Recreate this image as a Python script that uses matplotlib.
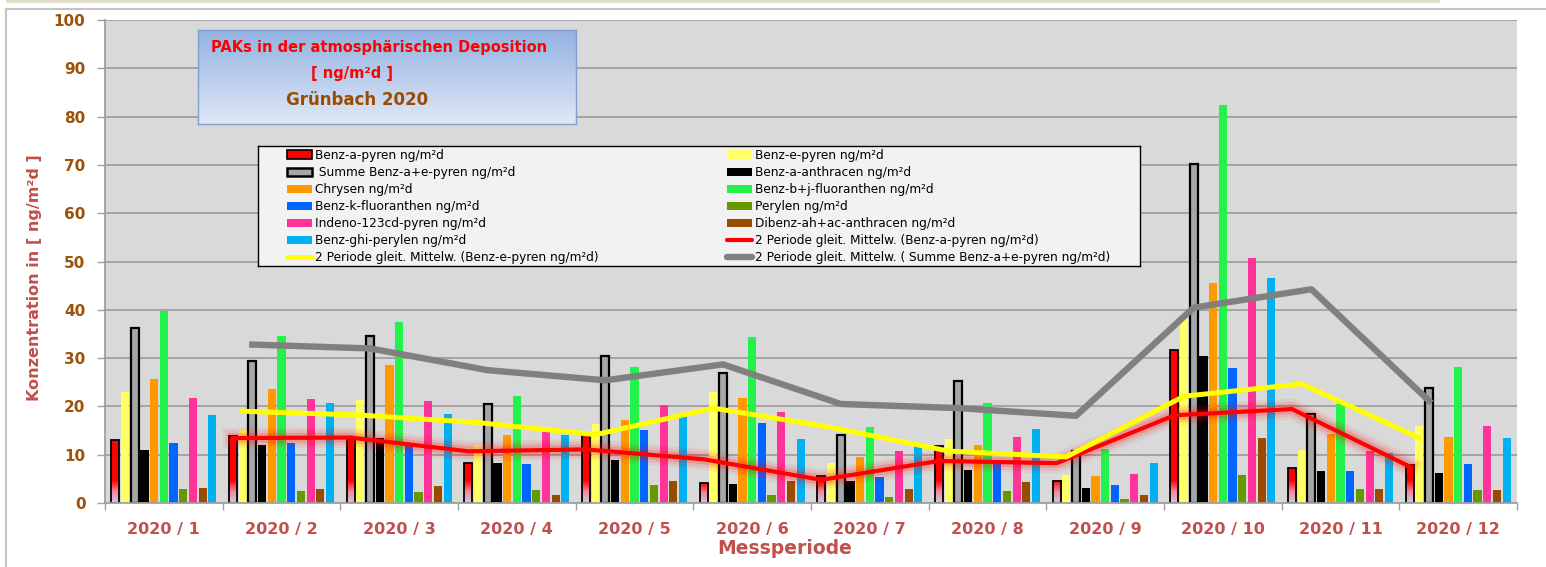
import numpy as np
import pandas as pd
import matplotlib
matplotlib.use('Agg')
import matplotlib.pyplot as plt
import matplotlib.patheffects as pe
from matplotlib.patches import Patch, Rectangle
from matplotlib.lines import Line2D
from matplotlib.colors import LinearSegmentedColormap

perioden = ['2020 / %d' % m for m in range(1, 13)]
bap = [13.0, 13.9, 13.2, 8.2, 14.0, 4.1, 5.5, 11.9, 4.6, 31.7, 7.2, 7.9]
bep = [22.9, 15.1, 21.3, 12.0, 16.3, 23.0, 8.3, 13.2, 5.9, 38.3, 11.0, 15.9]
summe = [36.2, 29.4, 34.6, 20.4, 30.4, 27.0, 14.0, 25.3, 10.8, 70.1, 18.4, 23.9]
baa = [11.0, 12.1, 13.4, 8.2, 8.8, 3.9, 4.5, 6.8, 3.2, 30.4, 6.6, 6.3]
chrysen = [25.7, 23.7, 28.6, 14.1, 17.1, 21.7, 9.6, 12.1, 5.6, 45.6, 14.2, 13.7]
bbjf = [39.8, 34.6, 37.4, 22.2, 28.1, 34.3, 15.8, 20.8, 11.1, 82.4, 20.6, 28.1]
bkf = [12.5, 12.5, 12.0, 8.1, 15.1, 16.5, 5.4, 8.3, 3.7, 27.9, 6.7, 8.1]
perylen = [2.8, 2.5, 2.3, 2.7, 3.7, 1.7, 1.2, 2.5, 0.8, 5.8, 2.8, 2.6]
indeno = [21.7, 21.6, 21.2, 14.8, 20.3, 18.8, 10.8, 13.7, 6.1, 50.7, 10.8, 15.9]
dibenz = [3.2, 2.9, 3.5, 1.7, 4.5, 4.5, 3.0, 4.3, 1.6, 13.4, 3.0, 2.6]
bghi = [18.2, 20.8, 18.4, 14.1, 17.9, 13.2, 11.7, 15.3, 8.2, 46.6, 10.4, 13.4]

namen = ['Benz-a-pyren ng/m²d', 'Benz-e-pyren ng/m²d', ' Summe Benz-a+e-pyren ng/m²d',
         'Benz-a-anthracen ng/m²d', 'Chrysen ng/m²d', 'Benz-b+j-fluoranthen ng/m²d',
         'Benz-k-fluoranthen ng/m²d', 'Perylen ng/m²d', 'Indeno-123cd-pyren ng/m²d',
         'Dibenz-ah+ac-anthracen ng/m²d', 'Benz-ghi-perylen ng/m²d']
werte = [bap, bep, summe, baa, chrysen, bbjf, bkf, perylen, indeno, dibenz, bghi]
farben = ['#ff0000', '#ffff66', '#a6a6a6', '#000000', '#ff9900', '#22f24a',
          '#0066ff', '#669900', '#ff3399', '#994c00', '#00b0f0']

ma_namen = ['2 Periode gleit. Mittelw. (Benz-a-pyren ng/m²d)',
            '2 Periode gleit. Mittelw. (Benz-e-pyren ng/m²d)',
            '2 Periode gleit. Mittelw. ( Summe Benz-a+e-pyren ng/m²d)']

W, H = 1546, 567
fig = plt.figure(figsize=(W / 100, H / 100), dpi=100)
fig.patch.set_facecolor('white')

# outer frame bits
fig.patches.append(Rectangle((6 / W, 1 - 3 / H), 1434 / W, 3 / H, transform=fig.transFigure,
                             facecolor='#e4dfc8', edgecolor='none'))
fig.lines.append(Line2D([6 / W, 1], [1 - 8.5 / H] * 2, transform=fig.transFigure, color='#c4c4c4', lw=1.5))
fig.lines.append(Line2D([6.5 / W] * 2, [0, 1 - 8.5 / H], transform=fig.transFigure, color='#c4c4c4', lw=1.5))

ax = fig.add_axes([105 / W, 1 - 503 / H, (1517 - 105) / W, (503 - 20) / H])
ax.set_facecolor('#d9d9d9')

pitch = 0.0825
bw = 0.07
x = np.arange(12)
grad = LinearSegmentedColormap.from_list('g', ['#cfc6e6', '#f08a9c', '#ff0000'])
for i, (vals, col) in enumerate(zip(werte, farben)):
    xs = x + (i - 5) * pitch
    if i in (0, 2):
        ax.bar(xs, vals, bw, color=col, edgecolor='none', zorder=2)
        if i == 0:
            for xi, v in zip(xs, vals):
                top = min(v, 4.6)
                ax.imshow(np.linspace(0, 1, 50).reshape(-1, 1), cmap=grad, origin='lower',
                          extent=[xi - bw / 2, xi + bw / 2, 0, top], aspect='auto', zorder=2.1,
                          interpolation='bilinear')
        ax.bar(xs, vals, bw, fill=False, edgecolor='black', lw=1.6 if i == 2 else 1.3, zorder=2.2)
    else:
        ax.bar(xs, vals, bw, color=col, edgecolor='none', zorder=2)

# 2 period moving averages (trendlines)
ma_bap = pd.Series(bap).rolling(2).mean()
ma_bep = pd.Series(bep).rolling(2).mean()
ma_sum = pd.Series(summe).rolling(2).mean()
glow = [pe.Stroke(linewidth=15, foreground='red', alpha=0.06),
        pe.Stroke(linewidth=11, foreground='red', alpha=0.1),
        pe.Stroke(linewidth=7, foreground='red', alpha=0.16), pe.Normal()]
ax.plot(x[1:] - 5 * pitch, ma_bap[1:], color='#ff0000', lw=3, zorder=3, path_effects=glow)
ax.plot(x[1:] - 4 * pitch, ma_bep[1:], color='#ffff00', lw=3.6, zorder=3.1)
ax.plot(x[1:] - 3 * pitch, ma_sum[1:], color='#808080', lw=4.6, zorder=3.2)

ax.set_xlim(-0.5, 11.5)
ax.set_ylim(0, 100)
ax.set_yticks(range(0, 101, 10))
ax.yaxis.grid(True, color='#a0a0a0', lw=1.3)
ax.set_axisbelow(True)
ax.set_xticks(x)
ax.set_xticklabels(perioden)
ax.set_xticks(np.arange(-0.5, 12, 1), minor=True)
ax.tick_params(axis='x', which='major', length=0, pad=14, labelsize=11.5, labelcolor='#c0504d')
ax.tick_params(axis='x', which='minor', length=5, color='#a0a0a0', width=1)
ax.tick_params(axis='y', length=6, color='#a0a0a0', width=1, labelsize=11, labelcolor='#9c5208', pad=8)
for lab in ax.get_xticklabels() + ax.get_yticklabels():
    lab.set_fontweight('bold')
for s in ['top', 'right']:
    ax.spines[s].set_visible(False)
for s in ['left', 'bottom']:
    ax.spines[s].set_color('#a0a0a0')
    ax.spines[s].set_linewidth(1.3)

fig.text(785 / W, 1 - 549 / H, 'Messperiode', ha='center', va='center', fontsize=13.5,
         fontweight='bold', color='#c0504d')
fig.text(35 / W, 1 - 278 / H, 'Konzentration in [ ng/m²d ]', ha='center', va='center',
         rotation=90, fontsize=11.5, fontweight='bold', color='#c0504d')

# title box
tax = fig.add_axes([198 / W, 1 - 124 / H, 378 / W, 94 / H])
tcm = LinearSegmentedColormap.from_list('t', ['#dfe8f6', '#93b2e2'])
tax.imshow(np.linspace(0, 1, 100).reshape(-1, 1), cmap=tcm, origin='lower',
           extent=[0, 1, 0, 1], aspect='auto')
tax.set_xlim(0, 1)
tax.set_ylim(0, 1)
tax.set_xticks([])
tax.set_yticks([])
for s in tax.spines.values():
    s.set_color('#7f9fd0')
    s.set_linewidth(1)
tax.text(0.48, 0.81, 'PAKs in der atmosphärischen Deposition', ha='center', va='center',
         fontsize=10.5, fontweight='bold', color='#ff0000', transform=tax.transAxes)
tax.text(0.408, 0.535, '[ ng/m²d ]', ha='center', va='center',
         fontsize=10.5, fontweight='bold', color='#ff0000', transform=tax.transAxes)
tax.text(0.42, 0.26, 'Grünbach 2020', ha='center', va='center',
         fontsize=12, fontweight='bold', color='#994c00', transform=tax.transAxes)

# legend box
lax = fig.add_axes([258 / W, 1 - 266 / H, 882 / W, 120 / H])
lax.set_facecolor('#f2f2f2')
lax.set_xticks([])
lax.set_yticks([])
for s in lax.spines.values():
    s.set_color('black')
    s.set_linewidth(1)

def bar_handle(i):
    if i == 0:
        return Patch(facecolor=farben[i], edgecolor='black', lw=1.2)
    if i == 2:
        return Patch(facecolor=farben[i], edgecolor='black', lw=1.8)
    return Patch(facecolor=farben[i], edgecolor='none')

ma_h = [Line2D([], [], color='#ff0000', lw=3, solid_capstyle='round'),
        Line2D([], [], color='#ffff00', lw=3.6, solid_capstyle='round'),
        Line2D([], [], color='#808080', lw=4.6, solid_capstyle='round')]
links = [0, 2, 4, 6, 8, 10]
rechts = [1, 3, 5, 7, 9]
h1 = [bar_handle(i) for i in links] + [ma_h[1]]
l1 = [namen[i] for i in links] + [ma_namen[1]]
h2 = [bar_handle(i) for i in rechts] + [ma_h[0], ma_h[2]]
l2 = [namen[i] for i in rechts] + [ma_namen[0], ma_namen[2]]
opts = dict(loc='upper left', frameon=False, fontsize=8.75, borderpad=0, borderaxespad=0,
            handlelength=2.05, handleheight=0.7, handletextpad=0.22, labelspacing=0.33)
leg1 = lax.legend(h1, l1, bbox_to_anchor=(29 / 882, 0.975), **opts)
lax.add_artist(leg1)
lax.legend(h2, l2, bbox_to_anchor=(469 / 882, 0.975), **opts)

fig.savefig('out.png', dpi=100)
